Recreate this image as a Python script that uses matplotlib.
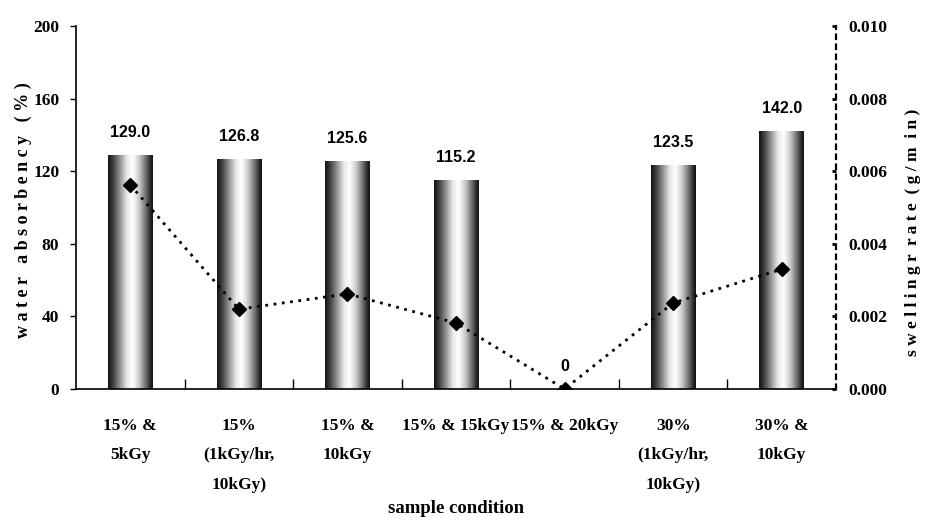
"""Water absorbency bars with swelling rate line on a second axis."""

import matplotlib
matplotlib.use("Agg")
import matplotlib.pyplot as plt
from matplotlib.colors import LinearSegmentedColormap
import numpy as np

conditions = [
    "15% &\n5kGy",
    "15%\n(1kGy/hr,\n10kGy)",
    "15% &\n10kGy",
    "15% & 15kGy",
    "15% & 20kGy",
    "30%\n(1kGy/hr,\n10kGy)",
    "30% &\n10kGy",
]
absorbency = [129.0, 126.8, 125.6, 115.2, 0.0, 123.5, 142.0]
absorbency_labels = ["129.0", "126.8", "125.6", "115.2", "0", "123.5", "142.0"]
swelling_rate = [0.00562, 0.00220, 0.00262, 0.00182, 0.0, 0.00237, 0.00330]

left_ticks = [0, 40, 80, 120, 160, 200]
right_ticks = [0.000, 0.002, 0.004, 0.006, 0.008, 0.010]

SERIF = ["Liberation Serif", "DejaVu Serif"]
SANS = ["Liberation Sans", "DejaVu Sans"]

# cylinder shading: dark edges, bright band a little right of centre
cyl = LinearSegmentedColormap.from_list(
    "cyl",
    [
        (0.00, "#111111"),
        (0.10, "#3a3a3a"),
        (0.25, "#8a8a8a"),
        (0.42, "#e8e8e8"),
        (0.55, "#ffffff"),
        (0.70, "#c8c8c8"),
        (0.85, "#6a6a6a"),
        (0.95, "#262626"),
        (1.00, "#111111"),
    ],
)

fig = plt.figure(figsize=(9.44, 5.31), dpi=100)
ax = fig.add_axes([0.0805, 0.2674, 0.8051, 0.6836])
x = np.arange(len(conditions))

bars = ax.bar(x, absorbency, width=0.41, facecolor="none", edgecolor="none", zorder=2)
grad = np.linspace(0, 1, 256).reshape(1, -1)
for bar in bars:
    x0, w, h = bar.get_x(), bar.get_width(), bar.get_height()
    if h <= 0:
        continue
    im = ax.imshow(grad, cmap=cyl, aspect="auto", extent=(x0, x0 + w, 0, h),
                   interpolation="bilinear", zorder=2)
    im.set_clip_path(bar)

for xi, val, lab in zip(x, absorbency, absorbency_labels):
    ax.annotate(lab, (xi, val), xytext=(0, 11), textcoords="offset points",
                ha="center", va="bottom", fontsize=11.5, fontweight="bold",
                family=SANS)

ax.set_xlim(-0.5, len(conditions) - 0.5)
ax.set_ylim(0, 200)
ax.set_yticks(left_ticks)
ax.set_yticklabels([str(t) for t in left_ticks], family=SERIF, fontsize=12.5,
                   fontweight="bold")
ax.set_xticks(x)
ax.set_xticklabels(conditions, family=SERIF, fontsize=12.5, fontweight="bold",
                   linespacing=2.1)
ax.set_xticks(x[:-1] + 0.5, minor=True)
ax.tick_params(axis="x", which="major", length=0, pad=21)
ax.tick_params(axis="x", which="minor", direction="in", length=7, width=1)
ax.tick_params(axis="y", direction="out", length=4, width=1, pad=8)
for side in ("top", "right"):
    ax.spines[side].set_visible(False)
ax.spines["left"].set_linewidth(1.2)
ax.spines["bottom"].set_linewidth(1.2)

ax.set_xlabel("sample condition", family=SERIF, fontsize=13.5, fontweight="bold",
              labelpad=5)
fig.text(0.025, 0.605, "w a t e r   a b s o r b e n c y   ( % )", rotation=90,
         ha="center", va="center", family=SERIF, fontsize=13, fontweight="bold")

ax2 = ax.twinx()
ax2.plot(x, swelling_rate, color="black", linestyle=(0, (1, 2)), linewidth=2,
         marker="D", markersize=7, zorder=3)
ax2.set_ylim(0, 0.010)
ax2.set_yticks(right_ticks)
ax2.set_yticklabels([f"{t:.3f}" for t in right_ticks], family=SERIF,
                    fontsize=12.5, fontweight="bold")
ax2.tick_params(axis="y", direction="in", length=3, width=2, pad=9)
for side in ("top", "left", "bottom"):
    ax2.spines[side].set_visible(False)
ax2.spines["right"].set_linestyle((0, (2, 2.5)))
ax2.spines["right"].set_linewidth(1.6)
fig.text(0.967, 0.563, "s w e l l i n g r  r a t e  ( g / m  i n )",
         rotation=90, ha="center", va="center", family=SERIF, fontsize=12.5,
         fontweight="bold")

fig.savefig("out.png", dpi=100)
